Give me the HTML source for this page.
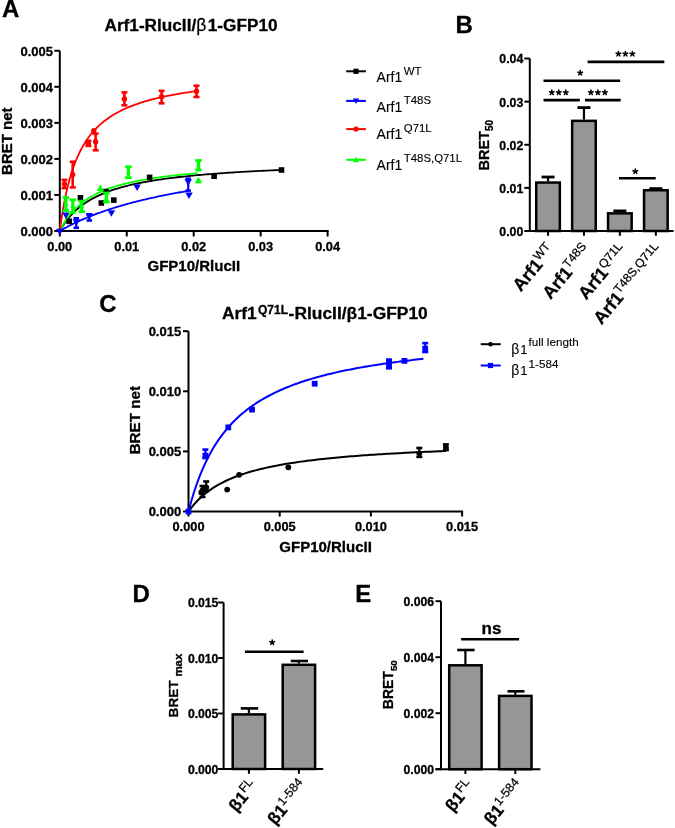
<!DOCTYPE html>
<html><head><meta charset="utf-8"><style>
html,body{margin:0;padding:0;background:#fff;overflow:hidden;}
svg{display:block;font-family:"Liberation Sans", sans-serif;will-change:transform;}
text{stroke:#000;stroke-width:0.3;}
text[font-weight=normal]{stroke-width:0.12;}
tspan[stroke-width]{stroke-width:0.25;}
</style></head><body>
<svg width="675" height="828" viewBox="0 0 675 828">
<rect width="675" height="828" fill="#fff"/>
<text x="2.00" y="17.00" font-size="24" font-weight="bold" text-anchor="start" fill="#000" >A</text>
<text x="455.60" y="32.60" font-size="24" font-weight="bold" text-anchor="start" fill="#000" >B</text>
<text x="99.20" y="312.00" font-size="24" font-weight="bold" text-anchor="start" fill="#000" >C</text>
<text x="132.50" y="601.90" font-size="24" font-weight="bold" text-anchor="start" fill="#000" >D</text>
<text x="355.30" y="601.90" font-size="24" font-weight="bold" text-anchor="start" fill="#000" >E</text>
<text x="104.5" y="30.9" font-size="17.2" font-weight="bold">Arf1-RlucII/<tspan font-weight="normal" font-size="17.5">β</tspan><tspan dx="1.5">1-GFP10</tspan></text>
<line x1="59.80" y1="50.75" x2="59.80" y2="232.00" stroke="#000" stroke-width="2" stroke-linecap="butt"/>
<line x1="58.80" y1="231.00" x2="328.60" y2="231.00" stroke="#000" stroke-width="2" stroke-linecap="butt"/>
<line x1="54.30" y1="231.00" x2="59.80" y2="231.00" stroke="#000" stroke-width="2" stroke-linecap="butt"/>
<text x="53.00" y="235.80" font-size="13" font-weight="bold" text-anchor="end" fill="#000" >0.000</text>
<line x1="54.30" y1="194.95" x2="59.80" y2="194.95" stroke="#000" stroke-width="2" stroke-linecap="butt"/>
<text x="53.00" y="199.75" font-size="13" font-weight="bold" text-anchor="end" fill="#000" >0.001</text>
<line x1="54.30" y1="158.90" x2="59.80" y2="158.90" stroke="#000" stroke-width="2" stroke-linecap="butt"/>
<text x="53.00" y="163.70" font-size="13" font-weight="bold" text-anchor="end" fill="#000" >0.002</text>
<line x1="54.30" y1="122.85" x2="59.80" y2="122.85" stroke="#000" stroke-width="2" stroke-linecap="butt"/>
<text x="53.00" y="127.65" font-size="13" font-weight="bold" text-anchor="end" fill="#000" >0.003</text>
<line x1="54.30" y1="86.80" x2="59.80" y2="86.80" stroke="#000" stroke-width="2" stroke-linecap="butt"/>
<text x="53.00" y="91.60" font-size="13" font-weight="bold" text-anchor="end" fill="#000" >0.004</text>
<line x1="54.30" y1="50.75" x2="59.80" y2="50.75" stroke="#000" stroke-width="2" stroke-linecap="butt"/>
<text x="53.00" y="55.55" font-size="13" font-weight="bold" text-anchor="end" fill="#000" >0.005</text>
<line x1="59.80" y1="231.00" x2="59.80" y2="236.50" stroke="#000" stroke-width="2" stroke-linecap="butt"/>
<text x="59.80" y="251.20" font-size="12.8" font-weight="bold" text-anchor="middle" fill="#000" >0.00</text>
<line x1="126.75" y1="231.00" x2="126.75" y2="236.50" stroke="#000" stroke-width="2" stroke-linecap="butt"/>
<text x="126.75" y="251.20" font-size="12.8" font-weight="bold" text-anchor="middle" fill="#000" >0.01</text>
<line x1="193.70" y1="231.00" x2="193.70" y2="236.50" stroke="#000" stroke-width="2" stroke-linecap="butt"/>
<text x="193.70" y="251.20" font-size="12.8" font-weight="bold" text-anchor="middle" fill="#000" >0.02</text>
<line x1="260.65" y1="231.00" x2="260.65" y2="236.50" stroke="#000" stroke-width="2" stroke-linecap="butt"/>
<text x="260.65" y="251.20" font-size="12.8" font-weight="bold" text-anchor="middle" fill="#000" >0.03</text>
<line x1="327.60" y1="231.00" x2="327.60" y2="236.50" stroke="#000" stroke-width="2" stroke-linecap="butt"/>
<text x="327.60" y="251.20" font-size="12.8" font-weight="bold" text-anchor="middle" fill="#000" >0.04</text>
<text x="193.80" y="270.80" font-size="15" font-weight="bold" text-anchor="middle" fill="#000" >GFP10/RlucII</text>
<text transform="translate(12.2,141.2) rotate(-90)" font-size="15" font-weight="bold" text-anchor="middle">BRET net</text>
<path d="M59.80,231.00 L61.08,230.26 L62.36,229.53 L63.65,228.82 L64.93,228.11 L66.21,227.42 L67.49,226.74 L68.77,226.07 L70.06,225.41 L71.34,224.76 L72.62,224.13 L73.90,223.50 L75.19,222.88 L76.47,222.27 L77.75,221.67 L79.03,221.08 L80.31,220.50 L81.60,219.93 L82.88,219.37 L84.16,218.81 L85.44,218.27 L86.72,217.73 L88.01,217.20 L89.29,216.67 L90.57,216.16 L91.85,215.65 L93.13,215.15 L94.42,214.65 L95.70,214.16 L96.98,213.68 L98.26,213.21 L99.54,212.74 L100.83,212.28 L102.11,211.82 L103.39,211.38 L104.67,210.93 L105.96,210.49 L107.24,210.06 L108.52,209.64 L109.80,209.22 L111.08,208.80 L112.37,208.39 L113.65,207.99 L114.93,207.59 L116.21,207.19 L117.49,206.80 L118.78,206.42 L120.06,206.04 L121.34,205.66 L122.62,205.29 L123.90,204.93 L125.19,204.56 L126.47,204.21 L127.75,203.85 L129.03,203.50 L130.32,203.16 L131.60,202.82 L132.88,202.48 L134.16,202.15 L135.44,201.82 L136.73,201.49 L138.01,201.17 L139.29,200.85 L140.57,200.54 L141.85,200.22 L143.14,199.92 L144.42,199.61 L145.70,199.31 L146.98,199.01 L148.26,198.72 L149.55,198.43 L150.83,198.14 L152.11,197.85 L153.39,197.57 L154.67,197.29 L155.96,197.01 L157.24,196.74 L158.52,196.47 L159.80,196.20 L161.09,195.94 L162.37,195.67 L163.65,195.41 L164.93,195.16 L166.21,194.90 L167.50,194.65 L168.78,194.40 L170.06,194.15 L171.34,193.91 L172.62,193.67 L173.91,193.43 L175.19,193.19 L176.47,192.95 L177.75,192.72 L179.03,192.49 L180.32,192.26 L181.60,192.04 L182.88,191.81 L184.16,191.59 L185.45,191.37 L186.73,191.15 L188.01,190.94" fill="none" stroke="#0000ff" stroke-width="1.8"/>
<path d="M59.80,231.00 L62.01,227.23 L64.23,223.84 L66.44,220.77 L68.65,217.97 L70.87,215.42 L73.08,213.08 L75.29,210.92 L77.51,208.93 L79.72,207.09 L81.93,205.37 L84.15,203.78 L86.36,202.29 L88.57,200.89 L90.79,199.59 L93.00,198.36 L95.21,197.20 L97.43,196.11 L99.64,195.08 L101.85,194.11 L104.07,193.18 L106.28,192.31 L108.49,191.47 L110.71,190.68 L112.92,189.92 L115.13,189.21 L117.35,188.52 L119.56,187.86 L121.77,187.23 L123.99,186.63 L126.20,186.05 L128.41,185.50 L130.63,184.97 L132.84,184.46 L135.05,183.97 L137.27,183.50 L139.48,183.04 L141.69,182.60 L143.91,182.18 L146.12,181.77 L148.33,181.38 L150.55,181.00 L152.76,180.63 L154.97,180.27 L157.19,179.93 L159.40,179.60 L161.61,179.27 L163.83,178.96 L166.04,178.66 L168.25,178.36 L170.47,178.07 L172.68,177.80 L174.90,177.53 L177.11,177.26 L179.32,177.01 L181.54,176.76 L183.75,176.52 L185.96,176.29 L188.18,176.06 L190.39,175.83 L192.60,175.62 L194.82,175.40 L197.03,175.20 L199.24,175.00 L201.46,174.80 L203.67,174.61 L205.88,174.42 L208.10,174.24 L210.31,174.06 L212.52,173.89 L214.74,173.72 L216.95,173.55 L219.16,173.39 L221.38,173.23 L223.59,173.07 L225.80,172.92 L228.02,172.77 L230.23,172.62 L232.44,172.48 L234.66,172.34 L236.87,172.20 L239.08,172.07 L241.30,171.94 L243.51,171.81 L245.72,171.68 L247.94,171.56 L250.15,171.43 L252.36,171.31 L254.58,171.20 L256.79,171.08 L259.00,170.97 L261.22,170.86 L263.43,170.75 L265.64,170.64 L267.86,170.54 L270.07,170.43 L272.28,170.33 L274.50,170.23 L276.71,170.14 L278.92,170.04 L281.14,169.94" fill="none" stroke="#000000" stroke-width="1.8"/>
<path d="M59.80,231.00 L61.18,228.23 L62.55,225.67 L63.93,223.29 L65.31,221.07 L66.69,219.00 L68.06,217.06 L69.44,215.25 L70.82,213.54 L72.19,211.93 L73.57,210.42 L74.95,208.99 L76.33,207.63 L77.70,206.35 L79.08,205.13 L80.46,203.97 L81.83,202.87 L83.21,201.82 L84.59,200.82 L85.97,199.87 L87.34,198.95 L88.72,198.08 L90.10,197.25 L91.47,196.44 L92.85,195.68 L94.23,194.94 L95.61,194.23 L96.98,193.55 L98.36,192.89 L99.74,192.26 L101.11,191.65 L102.49,191.06 L103.87,190.50 L105.25,189.95 L106.62,189.42 L108.00,188.91 L109.38,188.41 L110.75,187.94 L112.13,187.47 L113.51,187.02 L114.89,186.59 L116.26,186.17 L117.64,185.76 L119.02,185.36 L120.40,184.97 L121.77,184.60 L123.15,184.24 L124.53,183.88 L125.90,183.54 L127.28,183.20 L128.66,182.87 L130.04,182.56 L131.41,182.25 L132.79,181.95 L134.17,181.65 L135.54,181.37 L136.92,181.09 L138.30,180.81 L139.68,180.55 L141.05,180.29 L142.43,180.03 L143.81,179.79 L145.18,179.54 L146.56,179.31 L147.94,179.08 L149.32,178.85 L150.69,178.63 L152.07,178.41 L153.45,178.20 L154.82,177.99 L156.20,177.79 L157.58,177.59 L158.96,177.40 L160.33,177.21 L161.71,177.02 L163.09,176.84 L164.46,176.66 L165.84,176.48 L167.22,176.31 L168.60,176.14 L169.97,175.97 L171.35,175.81 L172.73,175.65 L174.10,175.49 L175.48,175.34 L176.86,175.19 L178.24,175.04 L179.61,174.89 L180.99,174.75 L182.37,174.61 L183.74,174.47 L185.12,174.33 L186.50,174.20 L187.88,174.07 L189.25,173.94 L190.63,173.81 L192.01,173.69 L193.38,173.57 L194.76,173.44 L196.14,173.33 L197.52,173.21" fill="none" stroke="#00ff00" stroke-width="1.8"/>
<path d="M59.80,231.00 L61.16,221.06 L62.53,212.28 L63.89,204.46 L65.26,197.46 L66.62,191.15 L67.98,185.43 L69.35,180.23 L70.71,175.48 L72.07,171.12 L73.44,167.10 L74.80,163.39 L76.17,159.96 L77.53,156.76 L78.89,153.79 L80.26,151.01 L81.62,148.41 L82.98,145.97 L84.35,143.68 L85.71,141.52 L87.08,139.49 L88.44,137.57 L89.80,135.75 L91.17,134.02 L92.53,132.39 L93.89,130.83 L95.26,129.35 L96.62,127.94 L97.99,126.60 L99.35,125.32 L100.71,124.09 L102.08,122.92 L103.44,121.79 L104.80,120.72 L106.17,119.68 L107.53,118.69 L108.90,117.74 L110.26,116.82 L111.62,115.94 L112.99,115.09 L114.35,114.27 L115.71,113.48 L117.08,112.72 L118.44,111.98 L119.81,111.27 L121.17,110.58 L122.53,109.92 L123.90,109.27 L125.26,108.65 L126.62,108.04 L127.99,107.46 L129.35,106.89 L130.72,106.34 L132.08,105.81 L133.44,105.29 L134.81,104.78 L136.17,104.29 L137.53,103.81 L138.90,103.35 L140.26,102.90 L141.63,102.46 L142.99,102.03 L144.35,101.62 L145.72,101.21 L147.08,100.81 L148.45,100.43 L149.81,100.05 L151.17,99.68 L152.54,99.33 L153.90,98.98 L155.26,98.63 L156.63,98.30 L157.99,97.97 L159.36,97.66 L160.72,97.34 L162.08,97.04 L163.45,96.74 L164.81,96.45 L166.17,96.16 L167.54,95.88 L168.90,95.61 L170.27,95.34 L171.63,95.08 L172.99,94.82 L174.36,94.57 L175.72,94.33 L177.08,94.08 L178.45,93.85 L179.81,93.62 L181.18,93.39 L182.54,93.16 L183.90,92.94 L185.27,92.73 L186.63,92.52 L187.99,92.31 L189.36,92.11 L190.72,91.91 L192.09,91.71 L193.45,91.52 L194.81,91.33 L196.18,91.14" fill="none" stroke="#ff0000" stroke-width="1.8"/>
<rect x="66.40" y="218.50" width="5.60" height="5.60" fill="#000000"/>
<rect x="77.60" y="195.00" width="5.60" height="5.60" fill="#000000"/>
<rect x="98.50" y="200.20" width="5.60" height="5.60" fill="#000000"/>
<rect x="103.10" y="188.80" width="5.60" height="5.60" fill="#000000"/>
<rect x="111.00" y="197.30" width="5.60" height="5.60" fill="#000000"/>
<rect x="146.80" y="174.60" width="5.60" height="5.60" fill="#000000"/>
<rect x="211.30" y="173.40" width="5.60" height="5.60" fill="#000000"/>
<rect x="278.70" y="167.20" width="5.60" height="5.60" fill="#000000"/>
<line x1="76.30" y1="218.30" x2="76.30" y2="227.80" stroke="#0000ff" stroke-width="2.2" stroke-linecap="butt"/>
<line x1="73.55" y1="218.30" x2="79.05" y2="218.30" stroke="#0000ff" stroke-width="2.6" stroke-linecap="butt"/>
<line x1="73.55" y1="227.80" x2="79.05" y2="227.80" stroke="#0000ff" stroke-width="2.6" stroke-linecap="butt"/>
<line x1="89.30" y1="214.30" x2="89.30" y2="220.50" stroke="#0000ff" stroke-width="2.2" stroke-linecap="butt"/>
<line x1="86.55" y1="214.30" x2="92.05" y2="214.30" stroke="#0000ff" stroke-width="2.6" stroke-linecap="butt"/>
<line x1="86.55" y1="220.50" x2="92.05" y2="220.50" stroke="#0000ff" stroke-width="2.6" stroke-linecap="butt"/>
<line x1="188.20" y1="178.70" x2="188.20" y2="190.60" stroke="#0000ff" stroke-width="2.2" stroke-linecap="butt"/>
<line x1="185.45" y1="178.70" x2="190.95" y2="178.70" stroke="#0000ff" stroke-width="2.6" stroke-linecap="butt"/>
<line x1="185.45" y1="190.60" x2="190.95" y2="190.60" stroke="#0000ff" stroke-width="2.6" stroke-linecap="butt"/>
<polygon points="56.08,228.71 63.52,228.71 59.80,235.22" fill="#0000ff"/>
<polygon points="62.18,212.41 69.62,212.41 65.90,218.92" fill="#0000ff"/>
<polygon points="72.58,219.21 80.02,219.21 76.30,225.72" fill="#0000ff"/>
<polygon points="85.58,213.41 93.02,213.41 89.30,219.92" fill="#0000ff"/>
<polygon points="107.68,210.31 115.12,210.31 111.40,216.82" fill="#0000ff"/>
<polygon points="133.38,184.51 140.82,184.51 137.10,191.02" fill="#0000ff"/>
<polygon points="184.48,179.21 191.92,179.21 188.20,185.72" fill="#0000ff"/>
<polygon points="185.28,192.61 192.72,192.61 189.00,199.12" fill="#0000ff"/>
<line x1="65.80" y1="197.50" x2="65.80" y2="210.60" stroke="#00ff00" stroke-width="3.2" stroke-linecap="butt"/>
<line x1="62.55" y1="197.50" x2="69.05" y2="197.50" stroke="#00ff00" stroke-width="2.8" stroke-linecap="butt"/>
<line x1="62.55" y1="210.60" x2="69.05" y2="210.60" stroke="#00ff00" stroke-width="2.8" stroke-linecap="butt"/>
<line x1="72.80" y1="199.80" x2="72.80" y2="212.40" stroke="#00ff00" stroke-width="3.2" stroke-linecap="butt"/>
<line x1="69.55" y1="199.80" x2="76.05" y2="199.80" stroke="#00ff00" stroke-width="2.8" stroke-linecap="butt"/>
<line x1="69.55" y1="212.40" x2="76.05" y2="212.40" stroke="#00ff00" stroke-width="2.8" stroke-linecap="butt"/>
<line x1="81.70" y1="201.20" x2="81.70" y2="211.70" stroke="#00ff00" stroke-width="3.2" stroke-linecap="butt"/>
<line x1="78.45" y1="201.20" x2="84.95" y2="201.20" stroke="#00ff00" stroke-width="2.8" stroke-linecap="butt"/>
<line x1="78.45" y1="211.70" x2="84.95" y2="211.70" stroke="#00ff00" stroke-width="2.8" stroke-linecap="butt"/>
<line x1="106.40" y1="193.00" x2="106.40" y2="202.00" stroke="#00ff00" stroke-width="3.2" stroke-linecap="butt"/>
<line x1="103.15" y1="193.00" x2="109.65" y2="193.00" stroke="#00ff00" stroke-width="2.8" stroke-linecap="butt"/>
<line x1="103.15" y1="202.00" x2="109.65" y2="202.00" stroke="#00ff00" stroke-width="2.8" stroke-linecap="butt"/>
<line x1="128.40" y1="166.80" x2="128.40" y2="177.80" stroke="#00ff00" stroke-width="3.2" stroke-linecap="butt"/>
<line x1="125.15" y1="166.80" x2="131.65" y2="166.80" stroke="#00ff00" stroke-width="2.8" stroke-linecap="butt"/>
<line x1="125.15" y1="177.80" x2="131.65" y2="177.80" stroke="#00ff00" stroke-width="2.8" stroke-linecap="butt"/>
<line x1="198.50" y1="160.50" x2="198.50" y2="170.00" stroke="#00ff00" stroke-width="3.2" stroke-linecap="butt"/>
<line x1="195.25" y1="160.50" x2="201.75" y2="160.50" stroke="#00ff00" stroke-width="2.8" stroke-linecap="butt"/>
<line x1="195.25" y1="170.00" x2="201.75" y2="170.00" stroke="#00ff00" stroke-width="2.8" stroke-linecap="butt"/>
<polygon points="96.68,191.09 104.12,191.09 100.40,184.58" fill="#00ff00"/>
<polygon points="194.78,183.29 202.22,183.29 198.50,176.78" fill="#00ff00"/>
<polygon points="63.60,205.80 68.40,205.80 66.00,201.60" fill="#00ff00"/>
<polygon points="70.40,207.90 75.20,207.90 72.80,203.70" fill="#00ff00"/>
<polygon points="79.30,207.90 84.10,207.90 81.70,203.70" fill="#00ff00"/>
<polygon points="104.00,200.30 108.80,200.30 106.40,196.10" fill="#00ff00"/>
<polygon points="126.00,173.80 130.80,173.80 128.40,169.60" fill="#00ff00"/>
<polygon points="196.10,166.80 200.90,166.80 198.50,162.60" fill="#00ff00"/>
<line x1="64.40" y1="179.90" x2="64.40" y2="188.10" stroke="#ff0000" stroke-width="2.6" stroke-linecap="butt"/>
<line x1="61.40" y1="179.90" x2="67.40" y2="179.90" stroke="#ff0000" stroke-width="2.6" stroke-linecap="butt"/>
<line x1="61.40" y1="188.10" x2="67.40" y2="188.10" stroke="#ff0000" stroke-width="2.6" stroke-linecap="butt"/>
<line x1="72.70" y1="161.80" x2="72.70" y2="187.40" stroke="#ff0000" stroke-width="2.6" stroke-linecap="butt"/>
<line x1="69.70" y1="161.80" x2="75.70" y2="161.80" stroke="#ff0000" stroke-width="2.6" stroke-linecap="butt"/>
<line x1="69.70" y1="187.40" x2="75.70" y2="187.40" stroke="#ff0000" stroke-width="2.6" stroke-linecap="butt"/>
<line x1="88.40" y1="140.80" x2="88.40" y2="145.90" stroke="#ff0000" stroke-width="2.6" stroke-linecap="butt"/>
<line x1="85.40" y1="140.80" x2="91.40" y2="140.80" stroke="#ff0000" stroke-width="2.6" stroke-linecap="butt"/>
<line x1="85.40" y1="145.90" x2="91.40" y2="145.90" stroke="#ff0000" stroke-width="2.6" stroke-linecap="butt"/>
<line x1="95.60" y1="133.60" x2="95.60" y2="150.30" stroke="#ff0000" stroke-width="2.6" stroke-linecap="butt"/>
<line x1="92.60" y1="133.60" x2="98.60" y2="133.60" stroke="#ff0000" stroke-width="2.6" stroke-linecap="butt"/>
<line x1="92.60" y1="150.30" x2="98.60" y2="150.30" stroke="#ff0000" stroke-width="2.6" stroke-linecap="butt"/>
<line x1="124.40" y1="92.40" x2="124.40" y2="105.30" stroke="#ff0000" stroke-width="2.6" stroke-linecap="butt"/>
<line x1="121.40" y1="92.40" x2="127.40" y2="92.40" stroke="#ff0000" stroke-width="2.6" stroke-linecap="butt"/>
<line x1="121.40" y1="105.30" x2="127.40" y2="105.30" stroke="#ff0000" stroke-width="2.6" stroke-linecap="butt"/>
<line x1="161.60" y1="90.90" x2="161.60" y2="103.30" stroke="#ff0000" stroke-width="2.6" stroke-linecap="butt"/>
<line x1="158.60" y1="90.90" x2="164.60" y2="90.90" stroke="#ff0000" stroke-width="2.6" stroke-linecap="butt"/>
<line x1="158.60" y1="103.30" x2="164.60" y2="103.30" stroke="#ff0000" stroke-width="2.6" stroke-linecap="butt"/>
<line x1="196.50" y1="85.70" x2="196.50" y2="97.00" stroke="#ff0000" stroke-width="2.6" stroke-linecap="butt"/>
<line x1="193.50" y1="85.70" x2="199.50" y2="85.70" stroke="#ff0000" stroke-width="2.6" stroke-linecap="butt"/>
<line x1="193.50" y1="97.00" x2="199.50" y2="97.00" stroke="#ff0000" stroke-width="2.6" stroke-linecap="butt"/>
<circle cx="64.40" cy="183.90" r="2.70" fill="#ff0000"/>
<circle cx="72.70" cy="174.60" r="2.70" fill="#ff0000"/>
<circle cx="88.20" cy="143.20" r="2.70" fill="#ff0000"/>
<circle cx="95.60" cy="141.80" r="2.70" fill="#ff0000"/>
<circle cx="93.80" cy="130.80" r="2.70" fill="#ff0000"/>
<circle cx="124.40" cy="99.00" r="2.70" fill="#ff0000"/>
<circle cx="161.60" cy="96.70" r="2.70" fill="#ff0000"/>
<circle cx="196.50" cy="91.20" r="2.70" fill="#ff0000"/>
<line x1="346.20" y1="71.30" x2="365.90" y2="71.30" stroke="#000000" stroke-width="2" stroke-linecap="butt"/>
<rect x="353.40" y="68.70" width="5.20" height="5.20" fill="#000000"/>
<text x="376.6" y="82.3" font-size="14" font-weight="normal">Arf1<tspan font-size="11.4" dx="1.5" dy="-7.6">WT</tspan></text>
<line x1="346.20" y1="100.90" x2="365.90" y2="100.90" stroke="#0000ff" stroke-width="2" stroke-linecap="butt"/>
<polygon points="352.88,98.56 359.12,98.56 356.00,104.02" fill="#0000ff"/>
<text x="376.6" y="111.5" font-size="14" font-weight="normal">Arf1<tspan font-size="11.4" dx="1.5" dy="-7.6">T48S</tspan></text>
<line x1="346.20" y1="129.10" x2="365.90" y2="129.10" stroke="#ff0000" stroke-width="2" stroke-linecap="butt"/>
<circle cx="356.00" cy="129.10" r="2.60" fill="#ff0000"/>
<text x="376.6" y="139.3" font-size="14" font-weight="normal">Arf1<tspan font-size="11.4" dx="1.5" dy="-7.6">Q71L</tspan></text>
<line x1="346.20" y1="159.80" x2="365.90" y2="159.80" stroke="#00ff00" stroke-width="2" stroke-linecap="butt"/>
<polygon points="352.88,162.14 359.12,162.14 356.00,156.68" fill="#00ff00"/>
<text x="376.6" y="169.7" font-size="14" font-weight="normal">Arf1<tspan font-size="11.4" dx="1.5" dy="-7.6">T48S,Q71L</tspan></text>
<line x1="529.80" y1="58.52" x2="529.80" y2="232.00" stroke="#000" stroke-width="2" stroke-linecap="butt"/>
<line x1="528.80" y1="231.00" x2="673.60" y2="231.00" stroke="#000" stroke-width="2" stroke-linecap="butt"/>
<line x1="524.30" y1="231.00" x2="529.80" y2="231.00" stroke="#000" stroke-width="2" stroke-linecap="butt"/>
<text x="523.30" y="235.90" font-size="12.3" font-weight="bold" text-anchor="end" fill="#000" >0.00</text>
<line x1="524.30" y1="187.88" x2="529.80" y2="187.88" stroke="#000" stroke-width="2" stroke-linecap="butt"/>
<text x="523.30" y="192.78" font-size="12.3" font-weight="bold" text-anchor="end" fill="#000" >0.01</text>
<line x1="524.30" y1="144.76" x2="529.80" y2="144.76" stroke="#000" stroke-width="2" stroke-linecap="butt"/>
<text x="523.30" y="149.66" font-size="12.3" font-weight="bold" text-anchor="end" fill="#000" >0.02</text>
<line x1="524.30" y1="101.64" x2="529.80" y2="101.64" stroke="#000" stroke-width="2" stroke-linecap="butt"/>
<text x="523.30" y="106.54" font-size="12.3" font-weight="bold" text-anchor="end" fill="#000" >0.03</text>
<line x1="524.30" y1="58.52" x2="529.80" y2="58.52" stroke="#000" stroke-width="2" stroke-linecap="butt"/>
<text x="523.30" y="63.42" font-size="12.3" font-weight="bold" text-anchor="end" fill="#000" >0.04</text>
<line x1="548.05" y1="177.00" x2="548.05" y2="181.30" stroke="#000" stroke-width="2.2" stroke-linecap="butt"/>
<line x1="541.55" y1="177.00" x2="554.55" y2="177.00" stroke="#000" stroke-width="2.8" stroke-linecap="butt"/>
<rect x="536.25" y="182.55" width="23.60" height="48.45" fill="#969696" stroke="#000" stroke-width="2.5"/>
<line x1="548.05" y1="231.00" x2="548.05" y2="235.80" stroke="#000" stroke-width="2" stroke-linecap="butt"/>
<line x1="583.95" y1="107.60" x2="583.95" y2="119.60" stroke="#000" stroke-width="2.2" stroke-linecap="butt"/>
<line x1="577.45" y1="107.60" x2="590.45" y2="107.60" stroke="#000" stroke-width="2.8" stroke-linecap="butt"/>
<rect x="572.15" y="120.85" width="23.60" height="110.15" fill="#969696" stroke="#000" stroke-width="2.5"/>
<line x1="583.95" y1="231.00" x2="583.95" y2="235.80" stroke="#000" stroke-width="2" stroke-linecap="butt"/>
<line x1="619.85" y1="210.90" x2="619.85" y2="212.10" stroke="#000" stroke-width="2.2" stroke-linecap="butt"/>
<line x1="613.35" y1="210.90" x2="626.35" y2="210.90" stroke="#000" stroke-width="2.8" stroke-linecap="butt"/>
<rect x="608.05" y="213.35" width="23.60" height="17.65" fill="#969696" stroke="#000" stroke-width="2.5"/>
<line x1="619.85" y1="231.00" x2="619.85" y2="235.80" stroke="#000" stroke-width="2" stroke-linecap="butt"/>
<line x1="655.85" y1="188.60" x2="655.85" y2="189.00" stroke="#000" stroke-width="2.2" stroke-linecap="butt"/>
<line x1="649.35" y1="188.60" x2="662.35" y2="188.60" stroke="#000" stroke-width="2.8" stroke-linecap="butt"/>
<rect x="644.05" y="190.25" width="23.60" height="40.75" fill="#969696" stroke="#000" stroke-width="2.5"/>
<line x1="655.85" y1="231.00" x2="655.85" y2="235.80" stroke="#000" stroke-width="2" stroke-linecap="butt"/>
<line x1="587.60" y1="61.90" x2="664.30" y2="61.90" stroke="#000" stroke-width="2.6" stroke-linecap="butt"/>
<line x1="543.50" y1="80.80" x2="620.20" y2="80.80" stroke="#000" stroke-width="2.6" stroke-linecap="butt"/>
<line x1="543.50" y1="100.10" x2="579.80" y2="100.10" stroke="#000" stroke-width="2.6" stroke-linecap="butt"/>
<line x1="585.00" y1="100.10" x2="620.70" y2="100.10" stroke="#000" stroke-width="2.6" stroke-linecap="butt"/>
<line x1="619.00" y1="178.20" x2="655.70" y2="178.20" stroke="#000" stroke-width="2.6" stroke-linecap="butt"/>
<path d="M618.40,53.90 L618.40,51.50 M618.40,53.90 L620.68,53.16 M618.40,53.90 L619.81,55.84 M618.40,53.90 L616.99,55.84 M618.40,53.90 L616.12,53.16 " stroke="#000" stroke-width="1.55" stroke-linecap="round" fill="none"/>
<path d="M625.40,53.90 L625.40,51.50 M625.40,53.90 L627.68,53.16 M625.40,53.90 L626.81,55.84 M625.40,53.90 L623.99,55.84 M625.40,53.90 L623.12,53.16 " stroke="#000" stroke-width="1.55" stroke-linecap="round" fill="none"/>
<path d="M632.40,53.90 L632.40,51.50 M632.40,53.90 L634.68,53.16 M632.40,53.90 L633.81,55.84 M632.40,53.90 L630.99,55.84 M632.40,53.90 L630.12,53.16 " stroke="#000" stroke-width="1.55" stroke-linecap="round" fill="none"/>
<path d="M580.20,72.90 L580.20,70.50 M580.20,72.90 L582.48,72.16 M580.20,72.90 L581.61,74.84 M580.20,72.90 L578.79,74.84 M580.20,72.90 L577.92,72.16 " stroke="#000" stroke-width="1.55" stroke-linecap="round" fill="none"/>
<path d="M551.80,92.50 L551.80,90.10 M551.80,92.50 L554.08,91.76 M551.80,92.50 L553.21,94.44 M551.80,92.50 L550.39,94.44 M551.80,92.50 L549.52,91.76 " stroke="#000" stroke-width="1.55" stroke-linecap="round" fill="none"/>
<path d="M558.80,92.50 L558.80,90.10 M558.80,92.50 L561.08,91.76 M558.80,92.50 L560.21,94.44 M558.80,92.50 L557.39,94.44 M558.80,92.50 L556.52,91.76 " stroke="#000" stroke-width="1.55" stroke-linecap="round" fill="none"/>
<path d="M565.80,92.50 L565.80,90.10 M565.80,92.50 L568.08,91.76 M565.80,92.50 L567.21,94.44 M565.80,92.50 L564.39,94.44 M565.80,92.50 L563.52,91.76 " stroke="#000" stroke-width="1.55" stroke-linecap="round" fill="none"/>
<path d="M590.90,92.50 L590.90,90.10 M590.90,92.50 L593.18,91.76 M590.90,92.50 L592.31,94.44 M590.90,92.50 L589.49,94.44 M590.90,92.50 L588.62,91.76 " stroke="#000" stroke-width="1.55" stroke-linecap="round" fill="none"/>
<path d="M597.90,92.50 L597.90,90.10 M597.90,92.50 L600.18,91.76 M597.90,92.50 L599.31,94.44 M597.90,92.50 L596.49,94.44 M597.90,92.50 L595.62,91.76 " stroke="#000" stroke-width="1.55" stroke-linecap="round" fill="none"/>
<path d="M604.90,92.50 L604.90,90.10 M604.90,92.50 L607.18,91.76 M604.90,92.50 L606.31,94.44 M604.90,92.50 L603.49,94.44 M604.90,92.50 L602.62,91.76 " stroke="#000" stroke-width="1.55" stroke-linecap="round" fill="none"/>
<path d="M635.30,171.40 L635.30,169.00 M635.30,171.40 L637.58,170.66 M635.30,171.40 L636.71,173.34 M635.30,171.40 L633.89,173.34 M635.30,171.40 L633.02,170.66 " stroke="#000" stroke-width="1.55" stroke-linecap="round" fill="none"/>
<text transform="translate(489.3,170.5) rotate(-90)" font-size="14.5" font-weight="bold">BRET<tspan font-size="10" dy="3.6">50</tspan></text>
<text transform="translate(555.70,250.70) rotate(-50)" font-size="17.7" font-weight="bold" text-anchor="end">Arf1<tspan font-size="12.1" font-weight="normal" stroke-width="0.25" dy="-6.5">WT</tspan></text>
<text transform="translate(591.80,250.70) rotate(-50)" font-size="17.7" font-weight="bold" text-anchor="end">Arf1<tspan font-size="12.1" font-weight="normal" stroke-width="0.25" dy="-6.5">T48S</tspan></text>
<text transform="translate(628.00,250.70) rotate(-50)" font-size="17.7" font-weight="bold" text-anchor="end">Arf1<tspan font-size="12.1" font-weight="normal" stroke-width="0.25" dy="-6.5">Q71L</tspan></text>
<text transform="translate(664.00,250.70) rotate(-50)" font-size="17.7" font-weight="bold" text-anchor="end">Arf1<tspan font-size="12.1" font-weight="normal" stroke-width="0.25" dy="-6.5">T48S,Q71L</tspan></text>
<text x="222.0" y="318.9" font-size="17.4" font-weight="bold">Arf1<tspan font-size="12" dx="1.2" dy="-5">Q71L</tspan><tspan dy="5" dx="0.6">-RlucII/β1-GFP10</tspan></text>
<line x1="188.50" y1="331.20" x2="188.50" y2="512.50" stroke="#000" stroke-width="2" stroke-linecap="butt"/>
<line x1="187.50" y1="511.50" x2="463.10" y2="511.50" stroke="#000" stroke-width="2" stroke-linecap="butt"/>
<line x1="183.00" y1="511.50" x2="188.50" y2="511.50" stroke="#000" stroke-width="2" stroke-linecap="butt"/>
<text x="181.20" y="516.20" font-size="13" font-weight="bold" text-anchor="end" fill="#000" >0.000</text>
<line x1="188.50" y1="511.50" x2="188.50" y2="516.50" stroke="#000" stroke-width="2" stroke-linecap="butt"/>
<text x="188.50" y="531.00" font-size="12.8" font-weight="bold" text-anchor="middle" fill="#000" >0.000</text>
<line x1="183.00" y1="451.40" x2="188.50" y2="451.40" stroke="#000" stroke-width="2" stroke-linecap="butt"/>
<text x="181.20" y="456.10" font-size="13" font-weight="bold" text-anchor="end" fill="#000" >0.005</text>
<line x1="279.70" y1="511.50" x2="279.70" y2="516.50" stroke="#000" stroke-width="2" stroke-linecap="butt"/>
<text x="279.70" y="531.00" font-size="12.8" font-weight="bold" text-anchor="middle" fill="#000" >0.005</text>
<line x1="183.00" y1="391.30" x2="188.50" y2="391.30" stroke="#000" stroke-width="2" stroke-linecap="butt"/>
<text x="181.20" y="396.00" font-size="13" font-weight="bold" text-anchor="end" fill="#000" >0.010</text>
<line x1="370.90" y1="511.50" x2="370.90" y2="516.50" stroke="#000" stroke-width="2" stroke-linecap="butt"/>
<text x="370.90" y="531.00" font-size="12.8" font-weight="bold" text-anchor="middle" fill="#000" >0.010</text>
<line x1="183.00" y1="331.20" x2="188.50" y2="331.20" stroke="#000" stroke-width="2" stroke-linecap="butt"/>
<text x="181.20" y="335.90" font-size="13" font-weight="bold" text-anchor="end" fill="#000" >0.015</text>
<line x1="462.10" y1="511.50" x2="462.10" y2="516.50" stroke="#000" stroke-width="2" stroke-linecap="butt"/>
<text x="462.10" y="531.00" font-size="12.8" font-weight="bold" text-anchor="middle" fill="#000" >0.015</text>
<text x="325.60" y="551.50" font-size="15" font-weight="bold" text-anchor="middle" fill="#000" >GFP10/RlucII</text>
<text transform="translate(140.4,420.2) rotate(-90)" font-size="15.2" font-weight="bold" text-anchor="middle">BRET net</text>
<path d="M188.50,511.50 L190.85,502.74 L193.20,494.78 L195.55,487.51 L197.90,480.85 L200.25,474.73 L202.60,469.08 L204.95,463.85 L207.29,458.99 L209.64,454.47 L211.99,450.26 L214.34,446.31 L216.69,442.62 L219.04,439.15 L221.39,435.88 L223.74,432.80 L226.09,429.89 L228.44,427.14 L230.79,424.54 L233.14,422.07 L235.49,419.72 L237.84,417.49 L240.18,415.36 L242.53,413.33 L244.88,411.40 L247.23,409.55 L249.58,407.78 L251.93,406.09 L254.28,404.47 L256.63,402.91 L258.98,401.42 L261.33,399.99 L263.68,398.61 L266.03,397.28 L268.38,396.00 L270.73,394.77 L273.08,393.59 L275.42,392.44 L277.77,391.34 L280.12,390.27 L282.47,389.24 L284.82,388.24 L287.17,387.27 L289.52,386.34 L291.87,385.43 L294.22,384.55 L296.57,383.70 L298.92,382.87 L301.27,382.07 L303.62,381.29 L305.97,380.54 L308.31,379.80 L310.66,379.09 L313.01,378.39 L315.36,377.72 L317.71,377.06 L320.06,376.42 L322.41,375.79 L324.76,375.19 L327.11,374.59 L329.46,374.01 L331.81,373.45 L334.16,372.90 L336.51,372.37 L338.86,371.84 L341.21,371.33 L343.55,370.83 L345.90,370.34 L348.25,369.87 L350.60,369.40 L352.95,368.94 L355.30,368.50 L357.65,368.06 L360.00,367.64 L362.35,367.22 L364.70,366.81 L367.05,366.41 L369.40,366.02 L371.75,365.63 L374.10,365.26 L376.44,364.89 L378.79,364.53 L381.14,364.17 L383.49,363.83 L385.84,363.49 L388.19,363.15 L390.54,362.82 L392.89,362.50 L395.24,362.19 L397.59,361.88 L399.94,361.57 L402.29,361.27 L404.64,360.98 L406.99,360.69 L409.34,360.41 L411.68,360.13 L414.03,359.86 L416.38,359.59 L418.73,359.32 L421.08,359.06 L423.43,358.81" fill="none" stroke="#0000ff" stroke-width="2"/>
<path d="M188.50,511.50 L191.08,508.02 L193.65,504.86 L196.23,501.97 L198.81,499.33 L201.39,496.90 L203.96,494.65 L206.54,492.58 L209.12,490.65 L211.70,488.86 L214.27,487.19 L216.85,485.63 L219.43,484.16 L222.01,482.79 L224.58,481.49 L227.16,480.27 L229.74,479.12 L232.31,478.03 L234.89,477.00 L237.47,476.02 L240.05,475.09 L242.62,474.21 L245.20,473.37 L247.78,472.56 L250.36,471.80 L252.93,471.07 L255.51,470.37 L258.09,469.70 L260.66,469.06 L263.24,468.44 L265.82,467.85 L268.40,467.28 L270.97,466.74 L273.55,466.21 L276.13,465.71 L278.71,465.22 L281.28,464.75 L283.86,464.30 L286.44,463.86 L289.02,463.44 L291.59,463.03 L294.17,462.64 L296.75,462.25 L299.32,461.88 L301.90,461.53 L304.48,461.18 L307.06,460.84 L309.63,460.52 L312.21,460.20 L314.79,459.89 L317.37,459.59 L319.94,459.30 L322.52,459.02 L325.10,458.74 L327.67,458.48 L330.25,458.22 L332.83,457.96 L335.41,457.72 L337.98,457.48 L340.56,457.24 L343.14,457.01 L345.72,456.79 L348.29,456.57 L350.87,456.36 L353.45,456.16 L356.03,455.95 L358.60,455.76 L361.18,455.56 L363.76,455.37 L366.33,455.19 L368.91,455.01 L371.49,454.83 L374.07,454.66 L376.64,454.49 L379.22,454.33 L381.80,454.17 L384.38,454.01 L386.95,453.85 L389.53,453.70 L392.11,453.55 L394.68,453.41 L397.26,453.27 L399.84,453.13 L402.42,452.99 L404.99,452.85 L407.57,452.72 L410.15,452.59 L412.73,452.47 L415.30,452.34 L417.88,452.22 L420.46,452.10 L423.04,451.98 L425.61,451.86 L428.19,451.75 L430.77,451.64 L433.34,451.53 L435.92,451.42 L438.50,451.31 L441.08,451.21 L443.65,451.11 L446.23,451.01" fill="none" stroke="#000000" stroke-width="2"/>
<line x1="205.40" y1="449.60" x2="205.40" y2="458.10" stroke="#0000ff" stroke-width="2.2" stroke-linecap="butt"/>
<line x1="202.40" y1="449.60" x2="208.40" y2="449.60" stroke="#0000ff" stroke-width="2.6" stroke-linecap="butt"/>
<line x1="202.40" y1="458.10" x2="208.40" y2="458.10" stroke="#0000ff" stroke-width="2.6" stroke-linecap="butt"/>
<line x1="389.00" y1="359.70" x2="389.00" y2="368.30" stroke="#0000ff" stroke-width="2.2" stroke-linecap="butt"/>
<line x1="386.00" y1="359.70" x2="392.00" y2="359.70" stroke="#0000ff" stroke-width="2.6" stroke-linecap="butt"/>
<line x1="386.00" y1="368.30" x2="392.00" y2="368.30" stroke="#0000ff" stroke-width="2.6" stroke-linecap="butt"/>
<line x1="425.20" y1="343.10" x2="425.20" y2="352.00" stroke="#0000ff" stroke-width="2.2" stroke-linecap="butt"/>
<line x1="422.20" y1="343.10" x2="428.20" y2="343.10" stroke="#0000ff" stroke-width="2.6" stroke-linecap="butt"/>
<line x1="422.20" y1="352.00" x2="428.20" y2="352.00" stroke="#0000ff" stroke-width="2.6" stroke-linecap="butt"/>
<rect x="185.60" y="508.60" width="5.80" height="5.80" fill="#0000ff"/>
<rect x="202.50" y="452.70" width="5.80" height="5.80" fill="#0000ff"/>
<rect x="225.40" y="424.50" width="5.80" height="5.80" fill="#0000ff"/>
<rect x="249.10" y="406.70" width="5.80" height="5.80" fill="#0000ff"/>
<rect x="311.80" y="380.80" width="5.80" height="5.80" fill="#0000ff"/>
<rect x="386.10" y="358.60" width="5.80" height="5.80" fill="#0000ff"/>
<rect x="386.10" y="363.00" width="5.80" height="5.80" fill="#0000ff"/>
<rect x="401.50" y="358.00" width="5.80" height="5.80" fill="#0000ff"/>
<rect x="422.30" y="345.80" width="5.80" height="5.80" fill="#0000ff"/>
<line x1="202.50" y1="486.00" x2="202.50" y2="497.00" stroke="#000000" stroke-width="2.2" stroke-linecap="butt"/>
<line x1="199.50" y1="486.00" x2="205.50" y2="486.00" stroke="#000000" stroke-width="2.6" stroke-linecap="butt"/>
<line x1="199.50" y1="497.00" x2="205.50" y2="497.00" stroke="#000000" stroke-width="2.6" stroke-linecap="butt"/>
<line x1="206.20" y1="481.50" x2="206.20" y2="491.00" stroke="#000000" stroke-width="2.2" stroke-linecap="butt"/>
<line x1="203.20" y1="481.50" x2="209.20" y2="481.50" stroke="#000000" stroke-width="2.6" stroke-linecap="butt"/>
<line x1="203.20" y1="491.00" x2="209.20" y2="491.00" stroke="#000000" stroke-width="2.6" stroke-linecap="butt"/>
<line x1="419.30" y1="448.00" x2="419.30" y2="456.90" stroke="#000000" stroke-width="2.2" stroke-linecap="butt"/>
<line x1="416.30" y1="448.00" x2="422.30" y2="448.00" stroke="#000000" stroke-width="2.6" stroke-linecap="butt"/>
<line x1="416.30" y1="456.90" x2="422.30" y2="456.90" stroke="#000000" stroke-width="2.6" stroke-linecap="butt"/>
<line x1="445.90" y1="444.40" x2="445.90" y2="450.00" stroke="#000000" stroke-width="2.2" stroke-linecap="butt"/>
<line x1="442.90" y1="444.40" x2="448.90" y2="444.40" stroke="#000000" stroke-width="2.6" stroke-linecap="butt"/>
<line x1="442.90" y1="450.00" x2="448.90" y2="450.00" stroke="#000000" stroke-width="2.6" stroke-linecap="butt"/>
<circle cx="201.30" cy="492.60" r="2.90" fill="#000000"/>
<circle cx="202.50" cy="490.40" r="2.90" fill="#000000"/>
<circle cx="206.20" cy="487.40" r="2.90" fill="#000000"/>
<circle cx="227.20" cy="489.60" r="2.90" fill="#000000"/>
<circle cx="239.10" cy="474.80" r="2.90" fill="#000000"/>
<circle cx="288.30" cy="467.30" r="2.90" fill="#000000"/>
<circle cx="419.30" cy="453.30" r="2.90" fill="#000000"/>
<circle cx="445.90" cy="447.40" r="2.90" fill="#000000"/>
<line x1="480.70" y1="344.20" x2="500.70" y2="344.20" stroke="#000000" stroke-width="2" stroke-linecap="butt"/>
<circle cx="490.50" cy="344.20" r="2.30" fill="#000000"/>
<line x1="480.70" y1="365.50" x2="500.70" y2="365.50" stroke="#0000ff" stroke-width="2" stroke-linecap="butt"/>
<rect x="487.90" y="362.90" width="5.20" height="5.20" fill="#0000ff"/>
<text x="511.3" y="353.8" font-size="13" font-weight="normal"><tspan font-size="14" dx="0">β</tspan><tspan dx="0.8">1</tspan><tspan x="528.6" font-size="11.7" dy="-7.5">full length</tspan></text>
<text x="511.3" y="375.0" font-size="13" font-weight="normal"><tspan font-size="14" dx="0">β</tspan><tspan dx="0.8">1</tspan><tspan x="528.6" font-size="11.7" dy="-6.7">1-584</tspan></text>
<line x1="223.60" y1="602.50" x2="223.60" y2="770.00" stroke="#000" stroke-width="2" stroke-linecap="butt"/>
<line x1="218.10" y1="769.00" x2="323.20" y2="769.00" stroke="#000" stroke-width="2" stroke-linecap="butt"/>
<line x1="218.10" y1="769.00" x2="223.60" y2="769.00" stroke="#000" stroke-width="2" stroke-linecap="butt"/>
<text x="218.40" y="773.50" font-size="12.2" font-weight="bold" text-anchor="end" fill="#000" >0.000</text>
<line x1="218.10" y1="713.50" x2="223.60" y2="713.50" stroke="#000" stroke-width="2" stroke-linecap="butt"/>
<text x="218.40" y="718.00" font-size="12.2" font-weight="bold" text-anchor="end" fill="#000" >0.005</text>
<line x1="218.10" y1="658.00" x2="223.60" y2="658.00" stroke="#000" stroke-width="2" stroke-linecap="butt"/>
<text x="218.40" y="662.50" font-size="12.2" font-weight="bold" text-anchor="end" fill="#000" >0.010</text>
<line x1="218.10" y1="602.50" x2="223.60" y2="602.50" stroke="#000" stroke-width="2" stroke-linecap="butt"/>
<text x="218.40" y="607.00" font-size="12.2" font-weight="bold" text-anchor="end" fill="#000" >0.015</text>
<line x1="248.90" y1="708.40" x2="248.90" y2="713.20" stroke="#000" stroke-width="2.2" stroke-linecap="butt"/>
<line x1="240.80" y1="708.40" x2="258.20" y2="708.40" stroke="#000" stroke-width="2.6" stroke-linecap="butt"/>
<rect x="232.70" y="714.40" width="32.40" height="54.60" fill="#969696" stroke="#000" stroke-width="2.5"/>
<line x1="248.90" y1="769.00" x2="248.90" y2="773.80" stroke="#000" stroke-width="2" stroke-linecap="butt"/>
<line x1="298.90" y1="661.00" x2="298.90" y2="663.60" stroke="#000" stroke-width="2.2" stroke-linecap="butt"/>
<line x1="290.80" y1="661.00" x2="308.00" y2="661.00" stroke="#000" stroke-width="2.6" stroke-linecap="butt"/>
<rect x="282.70" y="664.80" width="32.40" height="104.20" fill="#969696" stroke="#000" stroke-width="2.5"/>
<line x1="298.90" y1="769.00" x2="298.90" y2="773.80" stroke="#000" stroke-width="2" stroke-linecap="butt"/>
<line x1="244.90" y1="651.70" x2="303.60" y2="651.70" stroke="#000" stroke-width="2.6" stroke-linecap="butt"/>
<path d="M272.20,642.40 L272.20,640.00 M272.20,642.40 L274.48,641.66 M272.20,642.40 L273.61,644.34 M272.20,642.40 L270.79,644.34 M272.20,642.40 L269.92,641.66 " stroke="#000" stroke-width="1.55" stroke-linecap="round" fill="none"/>
<text transform="translate(177.6,717.4) rotate(-90)" font-size="13.6" font-weight="bold">BRET <tspan font-size="11.5" dy="3.9">max</tspan></text>
<text transform="translate(258.30,786.60) rotate(-50)" font-size="17" font-weight="bold" text-anchor="end">β1<tspan font-size="12.2" font-weight="normal" stroke-width="0.25" dy="-6.5">FL</tspan></text>
<text transform="translate(308.10,786.60) rotate(-50)" font-size="17" font-weight="bold" text-anchor="end">β1<tspan font-size="12.2" font-weight="normal" stroke-width="0.25" dy="-6.5">1-584</tspan></text>
<line x1="441.00" y1="601.20" x2="441.00" y2="770.20" stroke="#000" stroke-width="2" stroke-linecap="butt"/>
<line x1="435.50" y1="769.20" x2="540.40" y2="769.20" stroke="#000" stroke-width="2" stroke-linecap="butt"/>
<line x1="435.50" y1="769.20" x2="441.00" y2="769.20" stroke="#000" stroke-width="2" stroke-linecap="butt"/>
<text x="434.00" y="773.70" font-size="12.2" font-weight="bold" text-anchor="end" fill="#000" >0.000</text>
<line x1="435.50" y1="713.20" x2="441.00" y2="713.20" stroke="#000" stroke-width="2" stroke-linecap="butt"/>
<text x="434.00" y="717.70" font-size="12.2" font-weight="bold" text-anchor="end" fill="#000" >0.002</text>
<line x1="435.50" y1="657.20" x2="441.00" y2="657.20" stroke="#000" stroke-width="2" stroke-linecap="butt"/>
<text x="434.00" y="661.70" font-size="12.2" font-weight="bold" text-anchor="end" fill="#000" >0.004</text>
<line x1="435.50" y1="601.20" x2="441.00" y2="601.20" stroke="#000" stroke-width="2" stroke-linecap="butt"/>
<text x="434.00" y="605.70" font-size="12.2" font-weight="bold" text-anchor="end" fill="#000" >0.006</text>
<line x1="465.40" y1="650.00" x2="465.40" y2="664.10" stroke="#000" stroke-width="2.2" stroke-linecap="butt"/>
<line x1="457.20" y1="650.00" x2="474.60" y2="650.00" stroke="#000" stroke-width="2.6" stroke-linecap="butt"/>
<rect x="449.20" y="665.30" width="32.40" height="103.90" fill="#969696" stroke="#000" stroke-width="2.5"/>
<line x1="465.40" y1="769.20" x2="465.40" y2="774.00" stroke="#000" stroke-width="2" stroke-linecap="butt"/>
<line x1="515.30" y1="691.30" x2="515.30" y2="694.70" stroke="#000" stroke-width="2.2" stroke-linecap="butt"/>
<line x1="507.50" y1="691.30" x2="524.50" y2="691.30" stroke="#000" stroke-width="2.6" stroke-linecap="butt"/>
<rect x="499.10" y="695.90" width="32.40" height="73.30" fill="#969696" stroke="#000" stroke-width="2.5"/>
<line x1="515.30" y1="769.20" x2="515.30" y2="774.00" stroke="#000" stroke-width="2" stroke-linecap="butt"/>
<line x1="461.10" y1="639.30" x2="519.10" y2="639.30" stroke="#000" stroke-width="2.6" stroke-linecap="butt"/>
<text x="491.50" y="634.20" font-size="17" font-weight="bold" text-anchor="middle" fill="#000" >ns</text>
<text transform="translate(393.3,709.2) rotate(-90)" font-size="14" font-weight="bold">BRET<tspan font-size="9.8" dy="3.5">50</tspan></text>
<text transform="translate(474.80,786.60) rotate(-50)" font-size="17" font-weight="bold" text-anchor="end">β1<tspan font-size="12.2" font-weight="normal" stroke-width="0.25" dy="-6.5">FL</tspan></text>
<text transform="translate(524.50,786.60) rotate(-50)" font-size="17" font-weight="bold" text-anchor="end">β1<tspan font-size="12.2" font-weight="normal" stroke-width="0.25" dy="-6.5">1-584</tspan></text>
</svg>
</body></html>
